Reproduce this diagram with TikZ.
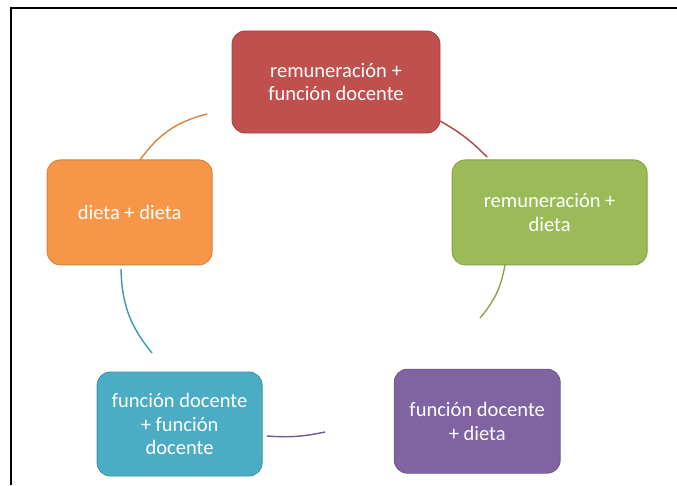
\documentclass[tikz,border=0pt]{standalone}
\usepackage{fontspec}
\setmainfont{Carlito}
\usetikzlibrary{positioning}

\definecolor{rojo}{HTML}{C0504D}
\definecolor{verde}{HTML}{9BBB59}
\definecolor{morado}{HTML}{8064A2}
\definecolor{celeste}{HTML}{4BACC6}
\definecolor{naranja}{HTML}{F79646}

\begin{document}
\begin{tikzpicture}[
    stage/.style={rectangle, rounded corners=0.33cm, draw=#1!85!black, fill=#1, line width=0.6pt, text=white, align=center, inner sep=2pt, font=\fontsize{14.6}{16.8}\selectfont},
    link/.style={line width=1pt, draw=#1!88!black},
    frame/.style={line width=1.4pt, black}
]
    \useasboundingbox (0,0) rectangle (16.925,-12.125);

    % Frame (cut at the bottom and right)
    \draw[frame] (0.275,-12.125) -- (0.275,-0.2) -- (16.925,-0.2);

    % Nodes
    \node[stage=rojo, minimum width=5.2cm, minimum height=2.55cm] (remfun) at (8.4,-2.05) {remuneración +\\función docente};
    \node[stage=verde, minimum width=4.875cm, minimum height=2.625cm] (remdie) at (13.74,-5.31) {remuneración +\\dieta};
    \node[stage=morado, minimum width=4.15cm, minimum height=2.6cm] (fundie) at (11.93,-10.53) {función docente\\+ dieta};
    \node[stage=celeste, minimum width=4.125cm, minimum height=2.6cm] (funfun) at (4.49,-10.6) {función docente\\+ función\\docente};
    \node[stage=naranja, minimum width=4.125cm, minimum height=2.625cm] (diedie) at (3.24,-5.31) {dieta + dieta};

    % Arc ends
    \coordinate (dd-out) at (3.5,-4.0);
    \coordinate (rf-in) at (5.175,-2.85);
    \coordinate (rf-out) at (11.0,-3.025);
    \coordinate (rd-in) at (12.175,-3.925);
    \coordinate (rd-out) at (12.625,-6.625);
    \coordinate (fd-in) at (12.0,-7.95);
    \coordinate (fd-out) at (8.125,-10.8);
    \coordinate (ff-in) at (6.675,-10.9);
    \coordinate (ff-out) at (3.8,-8.825);
    \coordinate (dd-in) at (3.025,-6.725);

    % Edges
    \draw[link=naranja] (dd-out) to[bend left=20] (rf-in);
    \draw[link=rojo] (rf-out) to[bend left=8] (rd-in);
    \draw[link=verde] (rd-out) to[bend left=15] (fd-in);
    \draw[link=morado] (fd-out) to[bend left=8] (ff-in);
    \draw[link=celeste] (ff-out) to[bend left=19] (dd-in);
\end{tikzpicture}
\end{document}
